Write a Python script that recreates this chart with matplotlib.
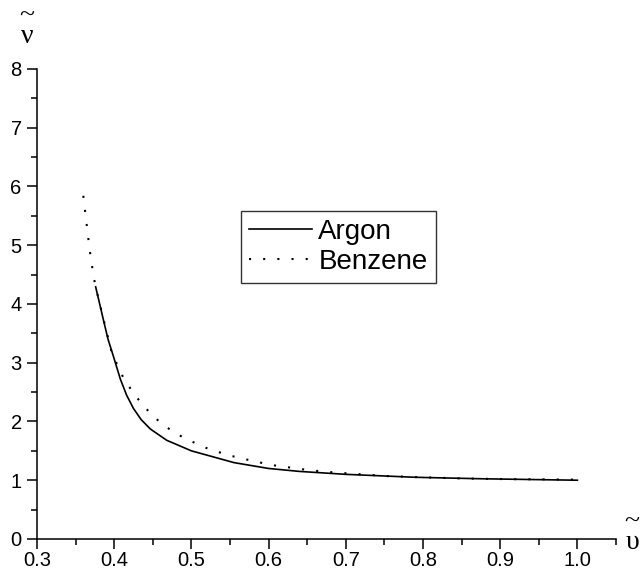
import numpy as np
import matplotlib
matplotlib.use('Agg')
from matplotlib import pyplot as plt
from matplotlib.ticker import MultipleLocator

plt.rcParams['font.family'] = ['Liberation Sans', 'DejaVu Sans']

# values
argon_x = [0.376, 0.386, 0.392, 0.398, 0.408, 0.416, 0.425, 0.435, 0.447, 0.468, 0.50, 0.555, 0.60, 0.64, 0.70, 0.79, 0.875, 0.95, 1.00]
argon_y = [4.29, 3.73, 3.40, 3.15, 2.72, 2.45, 2.22, 2.03, 1.87, 1.68, 1.50, 1.30, 1.20, 1.15, 1.10, 1.05, 1.025, 1.01, 1.0]

benzene_x = [0.360, 0.362, 0.364, 0.366, 0.368, 0.3705, 0.373, 0.376, 0.386, 0.397, 0.412, 0.423, 0.435,
             0.451, 0.468, 0.485, 0.502, 0.519, 0.535, 0.553, 0.569, 0.586, 0.603, 0.620, 0.653, 0.687,
             0.721, 0.754, 0.80, 0.85, 0.90, 1.00]
benzene_y = [5.84, 5.61, 5.39, 5.17, 4.94, 4.72, 4.49, 4.29, 3.75, 3.16, 2.74, 2.52, 2.31,
             2.08, 1.90, 1.76, 1.65, 1.55, 1.48, 1.41, 1.36, 1.31, 1.26, 1.23, 1.17, 1.13,
             1.10, 1.07, 1.05, 1.03, 1.02, 1.01]

xticks = [0.3, 0.4, 0.5, 0.6, 0.7, 0.8, 0.9, 1.0]
yticks = [0, 1, 2, 3, 4, 5, 6, 7, 8]

fig = plt.figure(figsize=(6.4, 5.74), dpi=100)
ax = fig.add_axes([0.0578, 0.061, 0.9047, 0.819])

ax.plot(argon_x, argon_y, color='black', lw=1.2, label='Argon')
ax.plot(benzene_x, benzene_y, color='black', lw=1.5, ls=(0, (1.0, 5.8)), label='Benzene')

ax.set_xlim(0.3, 1.05)
ax.set_ylim(0, 8)
ax.set_xticks(xticks)
ax.set_xticklabels(['%.1f' % t for t in xticks])
ax.set_yticks(yticks)
ax.xaxis.set_minor_locator(MultipleLocator(0.05))
ax.yaxis.set_minor_locator(MultipleLocator(0.5))
ax.tick_params(which='major', direction='out', length=7, width=1.1, labelsize=14.5)
ax.tick_params(which='minor', direction='out', length=4.5, width=1.1)
ax.tick_params(axis='x', which='major', pad=1.5)
ax.tick_params(axis='y', which='major', pad=4)
ax.spines['top'].set_visible(False)
ax.spines['right'].set_visible(False)
ax.spines['left'].set_linewidth(1.1)
ax.spines['bottom'].set_linewidth(1.1)

leg = ax.legend(loc='upper left', bbox_to_anchor=(0.352, 0.698), borderaxespad=0, fontsize=20,
                frameon=True, fancybox=False, edgecolor='black', handlelength=2.27,
                handletextpad=0.22, borderpad=0.3, labelspacing=0.12)
leg.get_frame().set_linewidth(1.0)

# axis symbols: tilde stacked over the greek letter in one text
serif = ['Liberation Serif', 'DejaVu Serif']
fig.text(27 / 640, 1 - 26 / 574, '~\nν', fontsize=20, ha='center', va='center',
         multialignment='center', linespacing=0.75, family=serif)
fig.text(632 / 640, 1 - 532 / 574, '~\nυ', fontsize=20, ha='center', va='center',
         multialignment='center', linespacing=0.75, family=serif)

fig.savefig('out.png', dpi=100)
